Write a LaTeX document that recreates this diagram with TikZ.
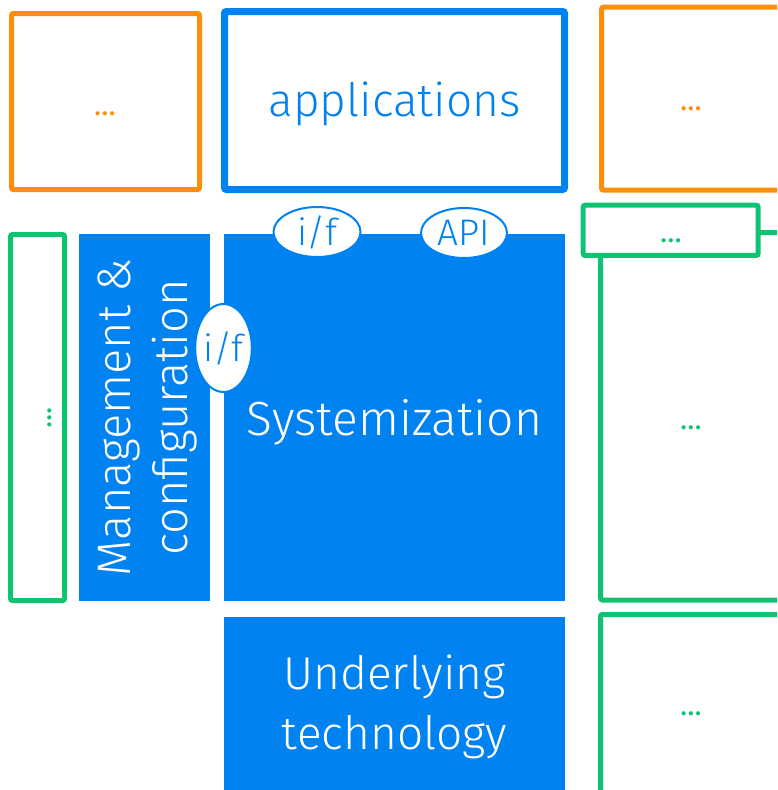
\documentclass[tikz,border=0pt]{standalone}
\usepackage{fontspec}
\setmainfont{Fira Sans}[UprightFont=* Light]
\newfontfamily\dotfont{Fira Sans}
\usetikzlibrary{shapes.geometric}

\definecolor{ericblue}{RGB}{0,130,240}
\definecolor{ericorange}{RGB}{255,140,10}
\definecolor{ericgreen}{RGB}{15,195,115}

\begin{document}
\begin{tikzpicture}[x=1pt,y=-1pt,
    every node/.style={inner sep=0pt, outer sep=0pt},
    framebox/.style={draw, line width=5pt, rounded corners=2pt, fill=white},
    solidbox/.style={fill=ericblue, text=white},
    bigtext/.style={font=\fontsize{47}{57}\selectfont},
    midtext/.style={font=\fontsize{46}{60}\selectfont},
    bubble/.style={ellipse, draw=ericblue, line width=2pt, fill=white,
      text=ericblue, font=\fontsize{37}{37}\selectfont},
    dots/.style={anchor=base, font=\dotfont\fontsize{30}{30}\selectfont}]
    \useasboundingbox (0,0) rectangle (777,790);
    \clip (0,0) rectangle (777,790);

    % top row
    \node (oleft) at (105.5,101.5) [framebox, draw=ericorange, minimum width=188, minimum height=176] {};
    \node (apps) at (394.5,100.5) [framebox, draw=ericblue, line width=7pt, minimum width=340, minimum height=178,
      text=ericblue, font=\fontsize{46}{46}\selectfont] {\raisebox{-3pt}[\height][\depth]{applications}};
    \node (oright) at (751.5,98.7) [framebox, draw=ericorange, minimum width=300, minimum height=183] {};

    % middle row
    \node (gleft) at (37.5,417.5) [framebox, draw=ericgreen, minimum width=54, minimum height=366] {};
    \node (mgmt) at (144.5,417.5) [solidbox, minimum width=131, minimum height=367] {};
    \node (mgmt-label) at ([xshift=3]mgmt.center) [rotate=90, align=center, text=white, bigtext] {Management \&\\configuration};
    \node (sys) at (394.5,417.5) [solidbox, minimum width=341, minimum height=367,
      font=\fontsize{48}{48}\selectfont] {\raisebox{-5pt}[\height][\depth]{Systemization}};
    \node (gbig) at (691,416.25) [framebox, draw=ericgreen, minimum width=181, minimum height=367.5] {};
    \node (gsmall) at (670.7,230.3) [framebox, draw=ericgreen, minimum width=175, minimum height=50.3] {};

    % bottom row
    \node (under) at (394.5,707) [solidbox, minimum width=341, minimum height=180, align=center, midtext] {Underlying\\technology};
    \node (gbottom) at (691,714.5) [framebox, draw=ericgreen, minimum width=181, minimum height=200] {};

    % interfaces
    \node (if-top) at (317,232) [bubble, minimum width=87, minimum height=50] {i/f};
    \node (api) at (464,233) [bubble, minimum width=86, minimum height=50] {API};
    \node (if-left) at (223.5,348) [bubble, minimum width=53, minimum height=88] {i/f};

    % placeholders
    \node (oleft-dots) at (105,115) [dots, text=ericorange] {...};
    \node (oright-dots) at (691,110) [dots, text=ericorange] {...};
    \node (gsmall-dots) at (671,242) [dots, text=ericgreen] {...};
    \node (gbig-dots) at (691,429) [dots, text=ericgreen] {...};
    \node (gbottom-dots) at (691,715) [dots, text=ericgreen] {...};
    \node (gleft-dots) at (51,418) [dots, rotate=90, text=ericgreen] {...};
\end{tikzpicture}
\end{document}
